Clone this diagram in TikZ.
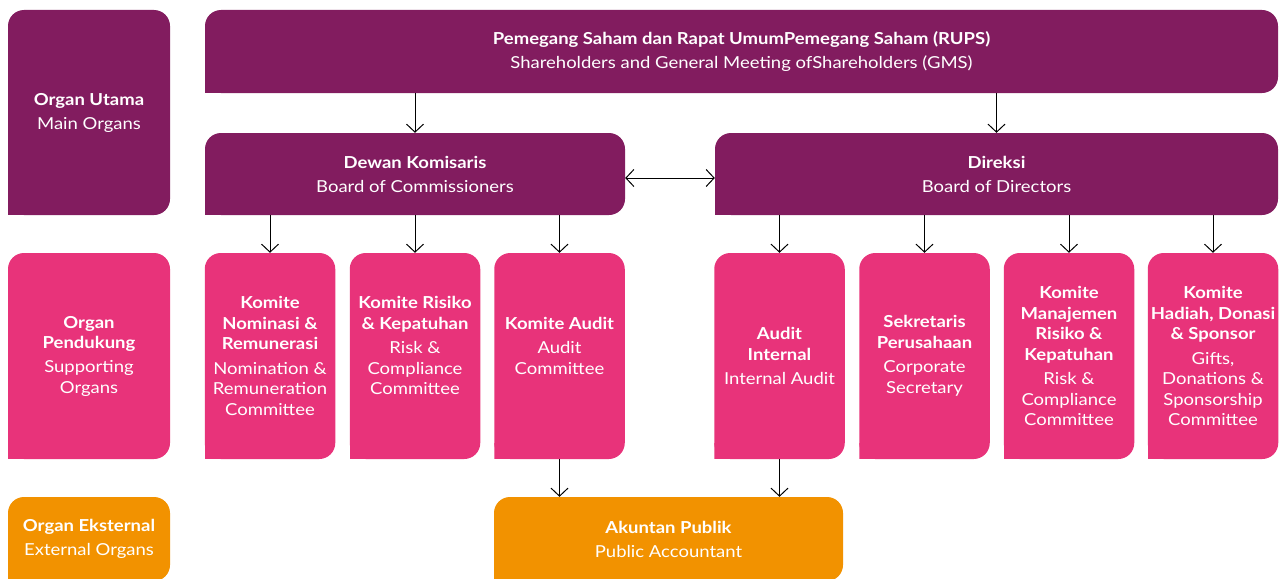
\documentclass[tikz,border=0pt]{standalone}
\usepackage{fontspec}
\setmainfont{Lato}[FakeStretch=1.12, BoldFeatures={FakeStretch=1.12}]
\usetikzlibrary{arrows.meta,positioning}
\definecolor{utama}{HTML}{821C5F}
\definecolor{pendukung}{HTML}{E8337A}
\definecolor{eksternal}{HTML}{F29200}
\tikzset{
organ/.style={rectangle, inner sep=0pt, align=center, text=white,
  font=\fontsize{16.5}{20.5}\selectfont,
  path picture={
    \fill[#1, rounded corners=16pt] (path picture bounding box.south west) rectangle (path picture bounding box.north east);
    \fill[#1] (path picture bounding box.south west) rectangle ++(16pt,16pt);}},
komite/.style={organ=pendukung, minimum width=130.5pt, minimum height=206pt},
arr/.style={-{Straight Barb[length=8pt,width=17pt]}, line width=1pt},
arrboth/.style={{Straight Barb[length=8pt,width=17pt]}-{Straight Barb[length=8pt,width=17pt]}, line width=1pt},
}

\begin{document}
\begin{tikzpicture}[x=1pt,y=-1pt]
\useasboundingbox (0,0) rectangle (1284,578);
\clip (0,0) rectangle (1284,578);

\coordinate (c0) at (270,356);
\coordinate (c1) at (415,356);
\coordinate (c2) at (559.5,356);
\coordinate (c3) at (779.5,356);
\coordinate (c4) at (924.5,356);
\coordinate (c5) at (1069,356);
\coordinate (c6) at (1213,356);

\node[organ=utama, minimum width=162pt, minimum height=205pt] (mainorg) at (89,112.5)
  {\textbf{Organ Utama}\\[3.5pt] Main Organs};
\node[organ=pendukung, minimum width=162pt, minimum height=206pt] (suporg) at (89,356)
  {\textbf{Organ}\\ \textbf{Pendukung}\\[3.5pt] Supporting\\ Organs};
\node[organ=eksternal, minimum width=162pt, minimum height=84pt] (extorg) at (89,539)
  {\textbf{Organ Eksternal}\\[3.5pt] External Organs};

\node[organ=utama, minimum width=1073pt, minimum height=83pt] (rups) at (741.5,51.5)
  {\textbf{Pemegang Saham dan Rapat UmumPemegang Saham (RUPS)}\\[3.5pt] Shareholders and General Meeting ofShareholders (GMS)};
\node[organ=utama, minimum width=420pt, minimum height=82pt] (dewan) at (415,174)
  {\textbf{Dewan Komisaris}\\[3.5pt] Board of Commissioners};
\node[organ=utama, minimum width=563pt, minimum height=82pt] (direksi) at (996.5,174)
  {\textbf{Direksi}\\[3.5pt] Board of Directors};

\node[komite] (nomrem) at (c0)
  {\textbf{Komite}\\ \textbf{Nominasi \&}\\ \textbf{Remunerasi}\\[4pt] Nomination \&\\ Remuneration\\ Committee};
\node[komite] (risiko) at (c1)
  {\textbf{Komite Risiko}\\ \textbf{\& Kepatuhan}\\[4pt] Risk \&\\ Compliance\\ Committee\\ \mbox{}};
\node[komite] (audit) at (c2)
  {\textbf{Komite Audit}\\[4pt] Audit\\ Committee\\ \mbox{}};
\node[komite] (intaudit) at (c3)
  {\textbf{Audit}\\ \textbf{Internal}\\[4pt] Internal Audit};
\node[komite] (sekper) at (c4)
  {\textbf{Sekretaris}\\ \textbf{Perusahaan}\\[4pt] Corporate\\ Secretary};
\node[komite] (manrisk) at (c5)
  {\textbf{Komite}\\ \textbf{Manajemen}\\ \textbf{Risiko \&}\\ \textbf{Kepatuhan}\\[4pt] Risk \&\\ Compliance\\ Committee};
\node[komite] (hadiah) at (c6)
  {\textbf{Komite}\\ \textbf{Hadiah, Donasi}\\ \textbf{\& Sponsor}\\[4pt] Gifts,\\ Donations \&\\ Sponsorship\\ Committee};

\node[organ=eksternal, minimum width=349pt, minimum height=84pt] (akuntan) at (668.5,539)
  {\textbf{Akuntan Publik}\\[3.5pt] Public Accountant};

\foreach \k in {dewan,direksi}
  \draw[arr] (rups.south -| \k.north) -- (\k.north);
\draw[arrboth] ([yshift=-4pt]dewan.east) -- ([yshift=-4pt]direksi.west);
\foreach \k in {nomrem,risiko,audit}
  \draw[arr] (dewan.south -| \k.north) -- (\k.north);
\foreach \k in {intaudit,sekper,manrisk,hadiah}
  \draw[arr] (direksi.south -| \k.north) -- (\k.north);
\foreach \k in {audit,intaudit}
  \draw[arr] (\k.south) -- (\k.south |- akuntan.north);
\end{tikzpicture}
\end{document}
